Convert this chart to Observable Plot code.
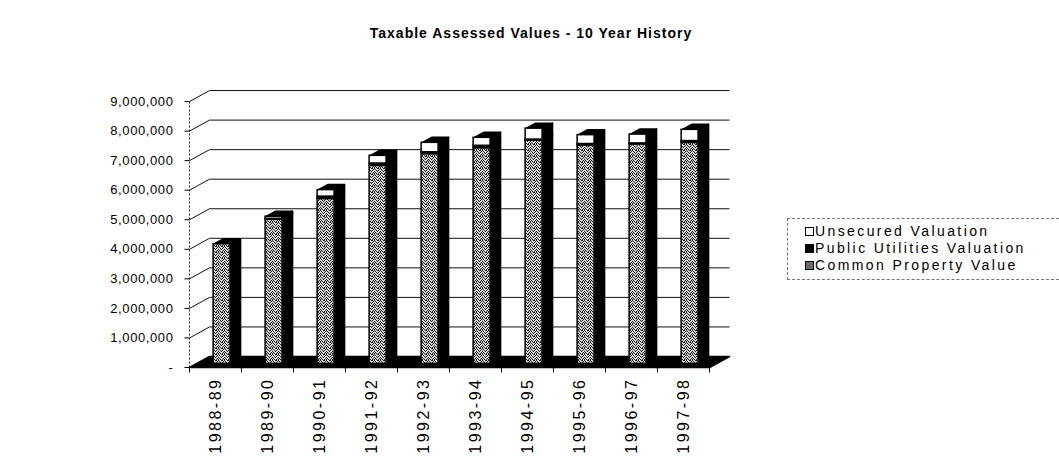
<!DOCTYPE html>
<html><head><meta charset="utf-8">
<script src="https://cdn.jsdelivr.net/npm/d3@7"></script>
<script src="https://cdn.jsdelivr.net/npm/@observablehq/plot@0.6"></script>
<style>
html,body{margin:0;padding:0;background:#fff;}
#wrap{position:relative;width:1059px;height:475px;overflow:hidden;font-family:"Liberation Sans",Arial,sans-serif;color:#000;}
#title{position:absolute;left:0;width:1062px;top:25px;text-align:center;font-weight:bold;font-size:14px;letter-spacing:1px;}
#chart{position:absolute;left:0;top:0;}
#legend{position:absolute;left:787px;top:218px;width:290px;height:60px;border:1px dashed #777;font-size:14px;letter-spacing:2.4px;}
.item{position:absolute;left:27px;height:17px;line-height:17px;white-space:nowrap;}
.sw{position:absolute;left:-10px;top:4px;width:9px;height:9px;border:1px solid #000;box-sizing:border-box;}
.ylab text{letter-spacing:0.6px;}
.xlab text{letter-spacing:2.5px;}
</style></head>
<body><div id="wrap">
<div id="chart"></div>
<div id="title">Taxable Assessed Values - 10 Year History</div>
<div id="legend"></div>
</div>
<script>
// ---- data ----
const years = ["1988-89","1989-90","1990-91","1991-92","1992-93","1993-94","1994-95","1995-96","1996-97","1997-98"];
const commonProperty = [4050000, 4880000, 5580000, 6700000, 7100000, 7300000, 7550000, 7380000, 7430000, 7480000];
const publicUtilities = [0, 30000, 80000, 80000, 60000, 80000, 40000, 60000, 30000, 60000];
const unsecured = [0, 70000, 220000, 260000, 320000, 270000, 370000, 300000, 300000, 380000];
const yTicks = [0, 1000000, 2000000, 3000000, 4000000, 5000000, 6000000, 7000000, 8000000, 9000000];
const seriesNames = ["Unsecured Valuation", "Public Utilities Valuation", "Common Property Value"];

// ---- 3D oblique projection (data units) ----
const PXC = 52, PXV = 29.55 / 1e6;
const DXC = 20 / PXC, DYV = 11 / PXV;   // full depth offset
const HW = 0.163, D0 = 0.33, D1 = 0.83;
const TICKV = -5 / PXV, TICKC = 5 / PXC;

const stack = [
  {name: "Common Property Value", vals: commonProperty},
  {name: "Public Utilities Valuation", vals: publicUtilities},
  {name: "Unsecured Valuation", vals: unsecured}
];
const segs = [];
const tops = [];
years.forEach((yr, i) => {
  let base = 0;
  stack.forEach(s => {
    const v = s.vals[i];
    if (v > 0) segs.push({i, lo: base, hi: base + v, name: s.name});
    base += v;
  });
  tops.push({i, t: base});
});
const sidePts = segs.flatMap((s, k) => [
  [s.i + HW + D0 * DXC, s.lo + D0 * DYV], [s.i + HW + D1 * DXC, s.lo + D1 * DYV],
  [s.i + HW + D1 * DXC, s.hi + D1 * DYV], [s.i + HW + D0 * DXC, s.hi + D0 * DYV]
].map(p => ({id: k, x: p[0], y: p[1]})));
const topPts = tops.flatMap(b => [
  [b.i - HW + D0 * DXC, b.t + D0 * DYV], [b.i + HW + D0 * DXC, b.t + D0 * DYV],
  [b.i + HW + D1 * DXC, b.t + D1 * DYV], [b.i - HW + D1 * DXC, b.t + D1 * DYV]
].map(p => ({id: b.i, x: p[0], y: p[1]})));
const n = years.length;
const floorPts = [[-0.5, 0], [n - 0.5, 0], [n - 0.5 + DXC, DYV], [-0.5 + DXC, DYV]].map(p => ({x: p[0], y: p[1]}));
const bounds = d3.range(n + 1).map(k => k - 0.5);
const gridVals = yTicks.filter(v => v > 0);
const fmt = v => v === 0 ? "-" : d3.format(",")(v);

const front = name => Plot.rect(segs.filter(s => s.name === name), {
  x1: s => s.i - HW + D0 * DXC, x2: s => s.i + HW + D0 * DXC,
  y1: s => s.lo + D0 * DYV, y2: s => s.hi + D0 * DYV,
  fill: name === "Common Property Value" ? "url(#stip)" : name === "Unsecured Valuation" ? "white" : "black",
  stroke: "black", strokeWidth: 1.5
});

const svg = Plot.plot({
  width: 1059, height: 475,
  x: {type: "linear", domain: [-0.5, n - 0.5], range: [189, 189 + PXC * n], axis: null},
  y: {type: "linear", domain: [0, 9000000], range: [367, 367 - 9000000 * PXV], axis: null},
  style: {fontFamily: "'Liberation Sans', Arial, sans-serif", fontSize: "13px", color: "#000", background: "transparent"},
  marks: [
    // back wall gridlines
    Plot.link(gridVals, {x1: () => -0.5 + DXC, y1: d => d + DYV, x2: () => n - 0.5 + DXC, y2: d => d + DYV, stroke: "#111", strokeWidth: 1}),
    // side wall gridlines
    Plot.link(gridVals, {x1: () => -0.5, y1: d => d, x2: () => -0.5 + DXC, y2: d => d + DYV, stroke: "#111", strokeWidth: 1}),
    // y axis line (front)
    Plot.link([0], {x1: () => -0.5, y1: () => 0, x2: () => -0.5, y2: () => 9000000, stroke: "#222", strokeDasharray: "2,2"}),
    // y ticks
    Plot.link(yTicks, {x1: () => -0.5 - TICKC, y1: d => d, x2: () => -0.5, y2: d => d, stroke: "#000"}),
    // floor
    Plot.line(floorPts, {x: "x", y: "y", fill: "black", stroke: "black", curve: "linear-closed"}),
    // x ticks
    Plot.link(bounds, {x1: d => d, y1: () => 0, x2: d => d, y2: () => TICKV, stroke: "#000"}),
    // bars
    Plot.line(sidePts, {x: "x", y: "y", z: "id", fill: "black", stroke: "black", curve: "linear-closed"}),
    Plot.line(topPts, {x: "x", y: "y", z: "id", fill: "black", stroke: "black", curve: "linear-closed"}),
    front("Common Property Value"),
    front("Public Utilities Valuation"),
    front("Unsecured Valuation"),
    // y labels
    Plot.text(yTicks, {x: () => -0.5, y: d => d, text: fmt, textAnchor: "end", dx: -16, fontSize: 13, className: "ylab"}),
    // x labels
    Plot.text(years, {x: (d, i) => i, y: () => 0, text: d => d, rotate: -90, textAnchor: "end", dy: 10, fontSize: 16, className: "xlab"})
  ]
});

// stipple pattern for the common property series
const defs = d3.select(svg).insert("defs", ":first-child");
const pat = defs.append("pattern").attr("id", "stip").attr("width", 6).attr("height", 6).attr("patternUnits", "userSpaceOnUse");
pat.append("rect").attr("width", 6).attr("height", 6).attr("fill", "#d8d8d8");
[[0,0],[2,0],[5,0],[1,1],[3,1],[4,2],[0,2],[2,3],[5,3],[1,4],[3,4],[0,5],[4,5],[2,5]]
  .forEach(([a,b]) => pat.append("rect").attr("x", a).attr("y", b).attr("width", 1).attr("height", 1).attr("fill", "#1a1a1a"));
document.getElementById("chart").appendChild(svg);

// legend
const legend = document.getElementById("legend");
const swStyle = {
  "Unsecured Valuation": "background:#fff;",
  "Public Utilities Valuation": "background:#000;",
  "Common Property Value": "background:radial-gradient(circle,#111 0.6px,#bbb 0.8px) 0 0/2px 2px;"
};
seriesNames.forEach((name, k) => {
  const it = document.createElement("div");
  it.className = "item";
  it.style.top = (4 + k * 17) + "px";
  it.innerHTML = `<span class="sw" style="${swStyle[name]}"></span>${name}`;
  legend.appendChild(it);
});
</script>
</body></html>
